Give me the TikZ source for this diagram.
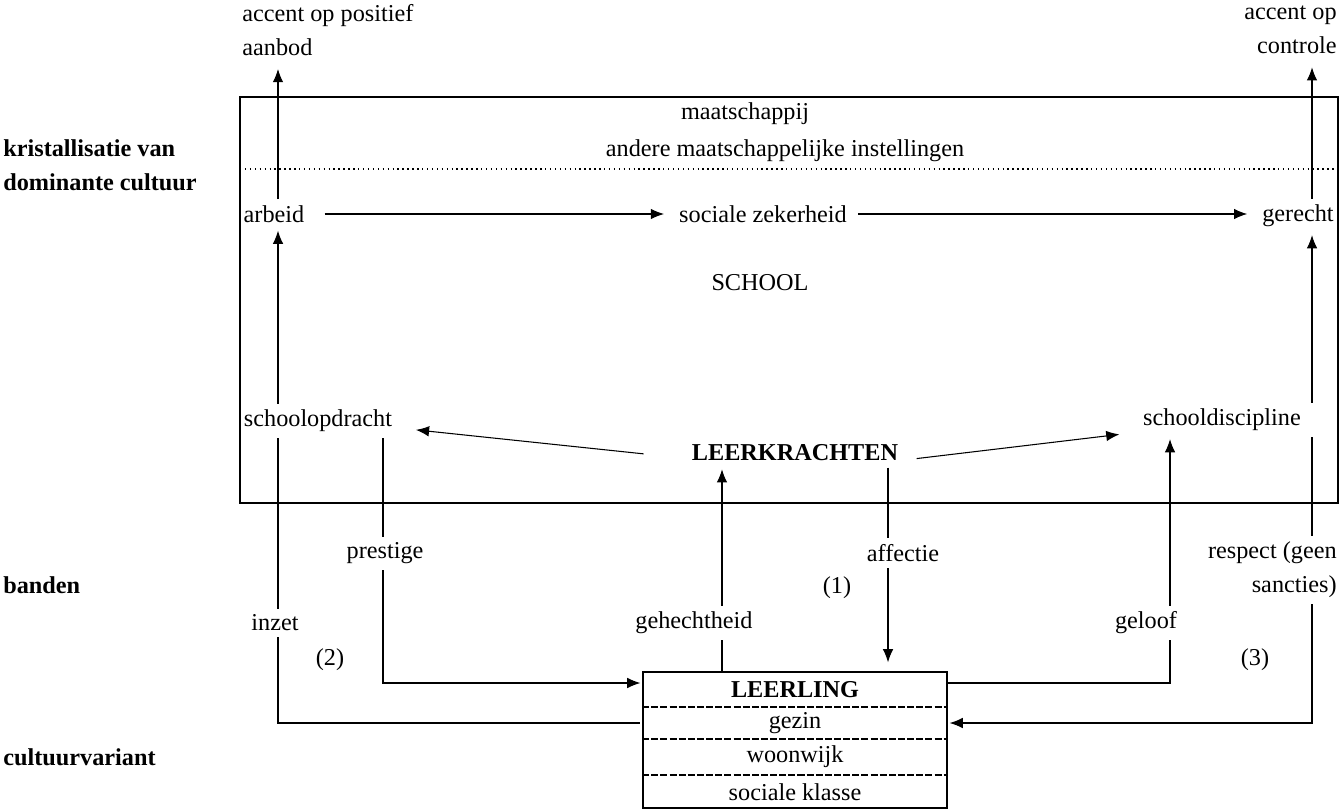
\documentclass[tikz,border=0pt]{standalone}
\usepackage{fontspec}
\setmainfont{Liberation Serif}
\usetikzlibrary{arrows.meta}

\begin{document}
\begin{tikzpicture}[->, >={Latex[length=7.5pt,width=6pt]}, shorten >=1pt, semithick, x=0.02cm, y=-0.02cm,
	every node/.style={font=\fontsize{13.8}{19.3}\selectfont},
	vet/.style={font=\fontsize{13.8}{19.3}\selectfont\bfseries},
	kop/.style={vet, anchor=west, align=left},
	band/.style={fill=white}]
		\useasboundingbox (0,0) rectangle (1341,811);
		\draw[-, line width=1pt] (240,97) rectangle (1338,503);
		\draw[-, dotted, thick] (240,169) -- (1338,169);
		
		\coordinate (xa) at (278,0);
		\coordinate (xp) at (383,0);
		\coordinate (xg) at (722,0);
		\coordinate (xf) at (888,0);
		\coordinate (xl) at (1170,0);
		\coordinate (xr) at (1312,0);
		\coordinate (yp) at (0,683);
		\coordinate (yi) at (0,723);
		
		\node[kop] (kristal) at (-3,165) {kristallisatie van\\dominante cultuur};
		\node[kop] (banden) at (-3,585) {banden};
		\node[kop] (variant) at (-3,757) {cultuurvariant};
		
		\node[anchor=west, align=left] (positief) at (236,30) {accent op positief\\aanbod};
		\node[anchor=east, align=right] (controle) at (1343,30) {accent op\\controle};
		\node (maatschappij) at (745,114) {maatschappij};
		\node (instellingen) at (785,151) {andere maatschappelijke instellingen};
		\node (arbeid) at (274,214) {arbeid};
		\node (sociale) at (763,214) {sociale zekerheid};
		\node (gerecht) at (1298,216) {gerecht};
		\node (school) at (760,283) {SCHOOL};
		\node (opdracht) at (318,421) {schoolopdracht};
		\node (discipline) at (1222,420) {schooldiscipline};
		\node[vet] (leerkrachten) at (795,453) {LEERKRACHTEN};
		
		\node[draw, line width=1pt, minimum width=6.08cm, minimum height=2.72cm] (leerling) at (795,740) {};
		\foreach \y in {707,739,775}
			\draw[-, line width=1.2pt, dash pattern=on 4pt off 1.2pt] (leerling.west |- 0,\y) -- (leerling.east |- 0,\y);
		\node[vet] (titel) at (795,690) {LEERLING};
		\node (gezin) at (795,723) {gezin};
		\node (woonwijk) at (795,757) {woonwijk};
		\node (klasse) at (795,792) {sociale klasse};
		
		\draw[shorten >=4pt] (arbeid.north -| xa) -- (positief.south -| xa);
		\draw[shorten >=4pt] (gerecht.north -| xr) -- (controle.south -| xr);
		\draw[shorten <=8pt, shorten >=5pt] (arbeid) -- (sociale);
		\draw[shorten <=3pt, shorten >=5pt] (sociale.east) -- (sociale.east -| gerecht.west);
		\draw (opdracht.north -| xa) -- (arbeid.south -| xa);
		\draw (discipline.north -| xr) -- (gerecht.south -| xr);
		\draw[shorten <=24pt, shorten >=10pt] ([yshift=-3pt]leerkrachten.west) -- ([yshift=-4pt]opdracht.east);
		\draw[shorten <=7pt, shorten >=10pt] ([yshift=-4pt]leerkrachten.east) -- ([yshift=-7pt]discipline.west);
		\draw (leerling.north -| xg) -- (leerkrachten.south -| xg);
		\draw[shorten >=5pt] (leerkrachten.south -| xf) -- (leerling.north -| xf);
		\draw (opdracht.south -| xp) |- (leerling.west |- yp);
		\draw[-] (opdracht.south -| xa) |- (leerling.west |- yi);
		\draw (leerling.east |- yp) -| (discipline.south -| xl);
		\draw (discipline.south -| xr) |- (leerling.east |- yi);
		
		% banden
		\node[band] (prestige) at (385,553) {prestige};
		\node[band] (affectie) at (903,553) {affectie};
		\node[band, anchor=east, align=right] (respect) at (1343,570) {respect (geen\\sancties)};
		\node[band] (inzet) at (275,623) {inzet};
		\node[band] (gehecht) at (694,623) {gehechtheid};
		\node[band] (geloof) at (1146,623) {geloof};
		\node (een) at (837,588) {(1)};
		\node (twee) at (330,660) {(2)};
		\node (drie) at (1255,660) {(3)};
	\end{tikzpicture}
\end{document}
